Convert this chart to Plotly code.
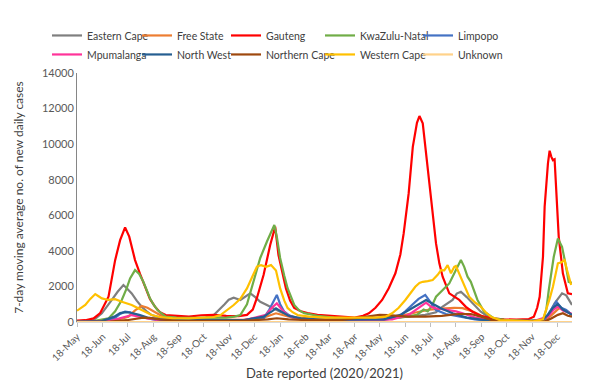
import pandas as pd
import plotly.graph_objects as go

START = pd.Timestamp("2020-05-18")

# Key points: (days since 18-May-2020, 7-day average)
eastern_cape_day = [0, 20, 30, 36, 42, 49, 56, 60, 66, 72, 78, 84, 90, 100, 120, 140, 155, 165, 172, 178, 183, 189, 197, 203, 209, 215, 221, 229, 235, 241, 248, 254, 265, 290, 320, 350, 380, 400, 420, 433, 441, 447, 453, 458, 463, 470, 477, 487, 499, 515, 540, 565, 570, 576, 580, 585, 590, 597]
eastern_cape_val = [30, 100, 490, 850, 1240, 1700, 2080, 1900, 1610, 1200, 860, 600, 390, 250, 200, 200, 250, 390, 700, 1000, 1250, 1370, 1240, 1450, 1610, 1400, 1140, 960, 800, 670, 500, 390, 250, 180, 150, 200, 250, 300, 400, 550, 860, 1050, 1240, 1600, 1700, 1400, 1050, 580, 200, 80, 40, 150, 500, 1050, 1300, 1610, 1500, 955]

free_state_day = [0, 40, 55, 62, 70, 78, 85, 92, 100, 110, 130, 200, 225, 240, 250, 260, 280, 320, 360, 390, 410, 425, 440, 455, 465, 477, 490, 505, 550, 568, 575, 582, 590, 597]
free_state_val = [5, 60, 200, 300, 650, 900, 800, 600, 400, 250, 150, 120, 250, 490, 350, 250, 200, 150, 200, 350, 550, 700, 750, 800, 780, 600, 300, 100, 40, 200, 500, 800, 650, 400]

gauteng_day = [0, 10, 20, 28, 38, 46, 52, 58, 63, 70, 76, 82, 88, 94, 100, 107, 120, 135, 150, 165, 180, 195, 205, 212, 217, 225, 233, 239, 243, 248, 252, 257, 262, 270, 278, 290, 305, 320, 335, 345, 352, 360, 368, 376, 384, 390, 394, 400, 405, 410, 413, 417, 421, 427, 433, 437, 441, 449, 455, 461, 469, 477, 487, 500, 515, 530, 545, 551, 555, 558, 562, 564, 568, 570, 572, 574, 576, 578, 581, 586, 592, 597]
gauteng_val = [80, 100, 200, 500, 1420, 3480, 4600, 5320, 4800, 3480, 2700, 1980, 1300, 860, 550, 390, 330, 300, 380, 400, 350, 330, 400, 700, 1350, 2640, 4330, 5360, 3760, 2700, 1890, 1200, 790, 600, 500, 400, 350, 280, 250, 350, 490, 800, 1240, 1900, 2740, 3800, 4980, 7230, 9850, 11200, 11580, 11170, 9480, 6860, 4420, 3300, 2550, 1610, 1400, 1240, 850, 580, 350, 200, 150, 130, 170, 300, 800, 1420, 3670, 6480, 8920, 9630, 9300, 9100, 9150, 7040, 4790, 2740, 1610, 1570]

kzn_day = [0, 20, 38, 46, 54, 60, 64, 70, 75, 80, 84, 88, 92, 97, 107, 120, 140, 160, 180, 190, 197, 205, 213, 221, 229, 234, 238, 241, 245, 250, 254, 262, 268, 274, 290, 310, 330, 360, 390, 410, 418, 423, 428, 433, 441, 449, 457, 463, 467, 471, 475, 479, 483, 491, 503, 520, 545, 562, 566, 569, 572, 575, 580, 585, 589, 593, 597]
kzn_val = [20, 50, 200, 600, 1240, 1900, 2450, 2920, 2700, 2260, 1800, 1330, 1000, 675, 300, 250, 230, 220, 250, 300, 390, 1000, 2260, 3600, 4510, 5000, 5450, 4800, 3600, 2600, 1900, 955, 650, 500, 350, 250, 200, 200, 250, 400, 700, 600, 900, 1420, 1800, 2170, 2920, 3480, 3100, 2550, 2260, 1700, 1240, 580, 200, 100, 60, 100, 700, 1800, 2700, 3670, 4700, 4230, 3300, 2260, 2200]

limpopo_day = [0, 30, 45, 52, 58, 64, 70, 80, 95, 120, 200, 225, 232, 237, 241, 245, 250, 258, 270, 300, 370, 388, 396, 404, 412, 420, 427, 433, 445, 461, 480, 500, 550, 565, 572, 578, 584, 590, 597]
limpopo_val = [10, 40, 200, 450, 580, 550, 400, 250, 120, 60, 60, 200, 700, 1200, 1520, 1000, 580, 300, 150, 80, 100, 300, 600, 955, 1300, 1520, 1100, 675, 450, 300, 150, 60, 30, 200, 700, 1140, 800, 675, 400]

mpumalanga_day = [0, 40, 55, 66, 75, 85, 100, 200, 228, 235, 241, 247, 255, 270, 300, 380, 400, 412, 421, 427, 433, 441, 449, 457, 465, 480, 500, 550, 568, 575, 580, 586, 597]
mpumalanga_val = [5, 50, 250, 390, 300, 200, 100, 80, 400, 800, 1050, 700, 350, 150, 80, 150, 400, 800, 1090, 850, 770, 720, 675, 600, 490, 250, 80, 40, 300, 700, 860, 650, 450]

north_west_day = [0, 30, 45, 52, 58, 65, 75, 85, 100, 130, 200, 225, 235, 240, 246, 255, 270, 300, 370, 390, 405, 415, 421, 430, 440, 453, 470, 490, 520, 560, 568, 574, 580, 586, 597]
north_west_val = [10, 50, 300, 500, 550, 520, 400, 250, 150, 100, 100, 300, 600, 770, 600, 350, 200, 120, 150, 400, 800, 1100, 1240, 1000, 750, 490, 250, 120, 50, 80, 400, 800, 1000, 700, 400]

northern_cape_day = [0, 40, 60, 70, 80, 90, 100, 120, 200, 230, 241, 255, 280, 320, 340, 355, 365, 375, 385, 400, 420, 440, 460, 475, 487, 500, 530, 565, 572, 580, 586, 592, 597]
northern_cape_val = [5, 20, 100, 180, 250, 220, 150, 80, 60, 150, 210, 150, 100, 120, 250, 350, 400, 390, 350, 300, 300, 350, 450, 450, 300, 120, 30, 50, 200, 400, 490, 350, 300]

western_cape_day = [0, 5, 10, 16, 22, 26, 30, 38, 46, 54, 60, 66, 72, 78, 84, 90, 100, 115, 135, 150, 165, 173, 181, 189, 197, 205, 211, 217, 222, 228, 234, 240, 245, 250, 254, 260, 266, 280, 300, 320, 340, 360, 372, 380, 388, 396, 402, 408, 413, 417, 423, 429, 435, 439, 443, 447, 451, 455, 457, 461, 465, 469, 473, 480, 487, 493, 499, 510, 530, 550, 562, 566, 570, 574, 577, 580, 584, 588, 591, 596]
western_cape_val = [635, 800, 955, 1300, 1570, 1450, 1330, 1240, 1280, 1140, 1050, 955, 820, 675, 520, 390, 280, 220, 200, 220, 280, 390, 650, 955, 1300, 1890, 2500, 3110, 3200, 3100, 3200, 2900, 1890, 1200, 790, 550, 390, 300, 250, 230, 250, 250, 300, 490, 800, 1240, 1600, 1980, 2200, 2260, 2300, 2360, 2650, 2920, 2900, 3200, 2740, 3100, 3150, 2700, 2360, 1900, 1420, 1100, 860, 550, 300, 110, 60, 40, 150, 675, 1300, 1980, 2700, 3300, 3350, 3480, 2920, 2080]

unknown_day = [0, 150, 300, 450, 597]
unknown_val = [0, 0, 0, 0, 0]

names = ["Eastern Cape", "Free State", "Gauteng", "KwaZulu-Natal", "Limpopo",
         "Mpumalanga", "North West", "Northern Cape", "Western Cape", "Unknown"]
colors = ["#7F7F7F", "#ED7D31", "#FF0000", "#70AD47", "#4472C4",
          "#FF3399", "#255E91", "#9E480E", "#FFC000", "#FFD28A"]
series = [(eastern_cape_day, eastern_cape_val), (free_state_day, free_state_val),
          (gauteng_day, gauteng_val), (kzn_day, kzn_val), (limpopo_day, limpopo_val),
          (mpumalanga_day, mpumalanga_val), (north_west_day, north_west_val),
          (northern_cape_day, northern_cape_val), (western_cape_day, western_cape_val),
          (unknown_day, unknown_val)]

tick_dates = pd.date_range("2020-05-01", "2021-12-01", freq="MS") + pd.Timedelta(days=17)
tick_text = [d.strftime("%d-%b") for d in tick_dates]

FONT = "Lato"
legend_ids = ["legend", "legend2", "legend3", "legend4", "legend5"]
fig = go.Figure()
for i, (name, col, (d, v)) in enumerate(zip(names, colors, series)):
    x = [START + pd.Timedelta(days=k) for k in d]
    fig.add_trace(go.Scatter(x=x, y=v, mode="lines", name=name,
                             line=dict(color=col, width=2.2),
                             legendgroup=name,
                             legend=legend_ids[i % 5]))

leg = dict(orientation="v", xanchor="left", yanchor="top", y=1.209,
           font=dict(family=FONT, size=10.5, color="#404040"),
           itemwidth=30, tracegroupgap=6,
           bgcolor="rgba(0,0,0,0)", traceorder="normal")
col_x = [-0.0606, 0.1212, 0.3010, 0.4909, 0.6889]
fig.update_layout(
    width=600, height=389,
    margin=dict(l=77, r=28, t=73, b=67),
    paper_bgcolor="white", plot_bgcolor="white",
    font=dict(family=FONT, size=11, color="#595959"),
    showlegend=True,
    **{lid: dict(leg, x=cx) for lid, cx in zip(legend_ids, col_x)},
    xaxis=dict(type="date", range=[START, START + pd.Timedelta(days=597)],
               tickvals=list(tick_dates), ticktext=tick_text, tickangle=-45,
               ticks="outside", ticklen=4, tickcolor="#BFBFBF", automargin=False,
               showline=True, linecolor="#D9D9D9", showgrid=False, zeroline=False,
               tickfont=dict(size=10, color="#595959"),
               title=dict(text="Date reported (2020/2021)", font=dict(size=13, color="#404040"), standoff=6)),
    yaxis=dict(range=[0, 14000], dtick=2000, showgrid=False, zeroline=False,
               showline=True, linecolor="#868686", ticks="", tickformat="d", automargin=False,
               tickfont=dict(size=11, color="#595959"),
               title=dict(text="7-day moving average no. of new daily cases", font=dict(size=12, color="#404040"))),
)
fig.write_html("out.html", config={"displayModeBar": False},
               post_script="document.body.style.margin='0px';")
